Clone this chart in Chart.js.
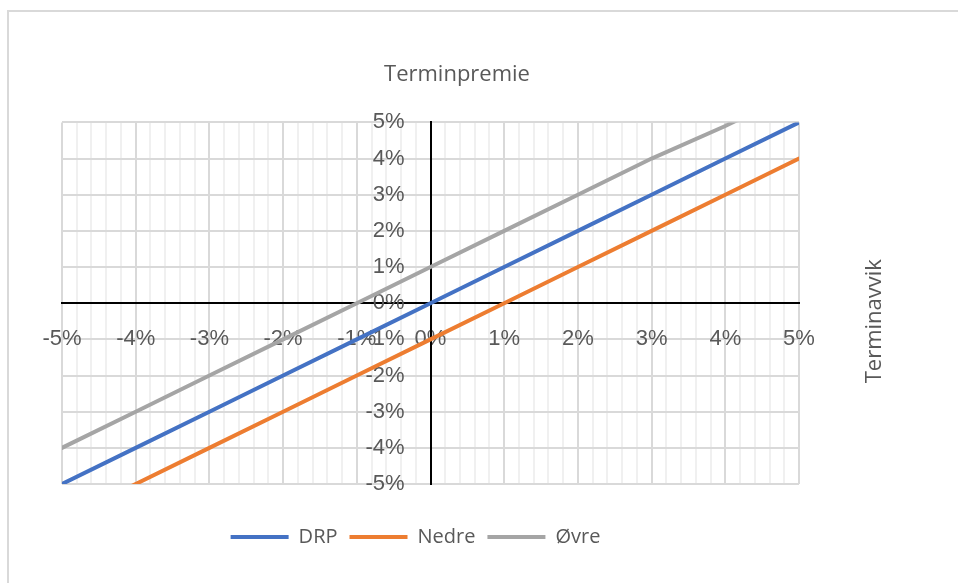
<!DOCTYPE html>
<html>
<head>
<meta charset="utf-8">
<script src="https://cdn.jsdelivr.net/npm/chart.js@4/dist/chart.umd.min.js"></script>
<style>
  html, body { margin: 0; padding: 0; background: #ffffff; overflow: hidden; }
  #wrap { position: relative; width: 958px; height: 583px; }
  #frame { position: absolute; left: 7px; top: 10px; width: 1200px; height: 1200px; border: 2px solid #d9d9d9; box-sizing: border-box; pointer-events: none; }
  canvas { position: absolute; left: 0; top: 0; }
</style>
</head>
<body>
<div id="wrap">
  <div id="frame"></div>
  <canvas id="c" width="958" height="583"></canvas>
</div>
<script>
// ---- Data (percent units) ----
const xValues     = [-5, -4, -3, -2, -1, 0, 1, 2, 3, 4, 5];
const drpValues   = [-5, -4, -3, -2, -1, 0, 1, 2, 3, 4, 5];
const nedreValues = [-6, -5, -4, -3, -2, -1, 0, 1, 2, 3, 4];
const ovreValues  = [-4, -3, -2, -1, 0, 1, 2, 3, 4, 4.9, 5.9];
const seriesNames = ['DRP', 'Nedre', 'Øvre'];
const seriesColors = ['#4472C4', '#ED7D31', '#A5A5A5'];
const chartTitle = 'Terminpremie';
const sideTitle = 'Terminavvik';
const axisMin = -5, axisMax = 5;

const textColor = '#595959';
const yLabelGap = 26;
const legendShift = -15;
const isMajor = v => Math.abs(v - Math.round(v)) < 1e-6;
const pct = v => Math.round(v) + '%';

function toPoints(ys) { return xValues.map((x, i) => ({ x: x, y: ys[i] })); }

// Side title, gap between the crossing y axis and its labels, legend offset
const extrasPlugin = {
  id: 'extras',
  beforeDraw(chart) {
    const s = chart.scales.y;
    if (s && !s._gapPatched) {
      const orig = s.drawLabels;
      s.drawLabels = function (ca) {
        this.ctx.save();
        this.ctx.translate(-yLabelGap, 0);
        orig.call(this, ca);
        this.ctx.restore();
      };
      s._gapPatched = true;
    }
    const lg = chart.legend;
    if (lg && !lg._shiftPatched) {
      const origDraw = lg.draw;
      lg.draw = function (ca) {
        this.ctx.save();
        this.ctx.translate(legendShift, 0);
        origDraw.call(this, ca);
        this.ctx.restore();
      };
      lg._shiftPatched = true;
    }
  },
  afterDraw(chart) {
    const { ctx, chartArea } = chart;
    ctx.save();
    ctx.fillStyle = textColor;
    ctx.font = '22px "Open Sans"';
    ctx.textAlign = 'center';
    ctx.textBaseline = 'middle';
    ctx.translate(chartArea.right + 76, (chartArea.top + chartArea.bottom) / 2 + 18);
    ctx.rotate(-Math.PI / 2);
    ctx.fillText(sideTitle, 0, 0);
    ctx.restore();
  }
};

const datasets = [drpValues, nedreValues, ovreValues].map((vals, i) => ({
  label: seriesNames[i],
  data: toPoints(vals),
  borderColor: seriesColors[i],
  backgroundColor: seriesColors[i],
  borderWidth: 4,
  borderCapStyle: 'round',
  pointRadius: 0,
  pointHoverRadius: 0,
  tension: 0,
  clip: 0,
  xAxisID: 'x',
  yAxisID: 'y'
}));

new Chart(document.getElementById('c'), {
  type: 'line',
  data: { datasets: datasets },
  plugins: [extrasPlugin],
  options: {
    responsive: false,
    animation: false,
    events: [],
    layout: { padding: { left: 62, right: 106, top: 0, bottom: 26 } },
    plugins: {
      title: {
        display: true,
        text: chartTitle,
        color: textColor,
        font: { family: '"Open Sans"', size: 22, weight: 'normal' },
        padding: { top: 62, bottom: 34 }
      },
      legend: {
        display: true,
        position: 'bottom',
        fullSize: false,
        labels: {
          color: textColor,
          font: { family: '"Open Sans"', size: 20 },
          usePointStyle: true,
          pointStyle: 'line',
          pointStyleWidth: 58,
          padding: 12
        }
      },
      tooltip: { enabled: false }
    },
    scales: {
      x: {
        type: 'linear',
        position: { y: 0 },
        min: axisMin,
        max: axisMax,
        ticks: {
          stepSize: 0.2,
          autoSkip: false,
          maxRotation: 0,
          minRotation: 0,
          color: textColor,
          font: { family: '"Liberation Sans"', size: 22 },
          padding: 23,
          callback: v => isMajor(v) ? pct(v) : ''
        },
        grid: {
          drawTicks: false,
          lineWidth: 2,
          color: c => {
            const v = c.tick ? c.tick.value : 0;
            if (Math.abs(v) < 1e-6) return 'rgba(0,0,0,0)';
            return isMajor(v) ? '#d9d9d9' : '#f0f0f0';
          }
        },
        border: { display: true, color: '#000000', width: 2 }
      },
      y: {
        type: 'linear',
        position: { x: 0 },
        min: axisMin,
        max: axisMax,
        ticks: {
          stepSize: 1,
          color: textColor,
          font: { family: '"Liberation Sans"', size: 22 },
          callback: v => pct(v)
        },
        grid: {
          drawTicks: false,
          lineWidth: 2,
          color: c => {
            const v = c.tick ? c.tick.value : 0;
            return Math.abs(v) < 1e-6 ? 'rgba(0,0,0,0)' : '#d9d9d9';
          }
        },
        border: { display: true, color: '#000000', width: 2 }
      },
      xGap: {
        type: 'linear',
        position: 'bottom',
        min: 0, max: 1,
        grid: { display: false },
        border: { display: false },
        ticks: { display: false },
        afterFit: s => { s.height = 31; }
      },
      yGap: {
        type: 'linear',
        position: 'right',
        min: 0, max: 1,
        grid: { display: false },
        border: { display: false },
        ticks: { display: false },
        afterFit: s => { s.width = 53; }
      }
    }
  }
});
</script>
</body>
</html>
